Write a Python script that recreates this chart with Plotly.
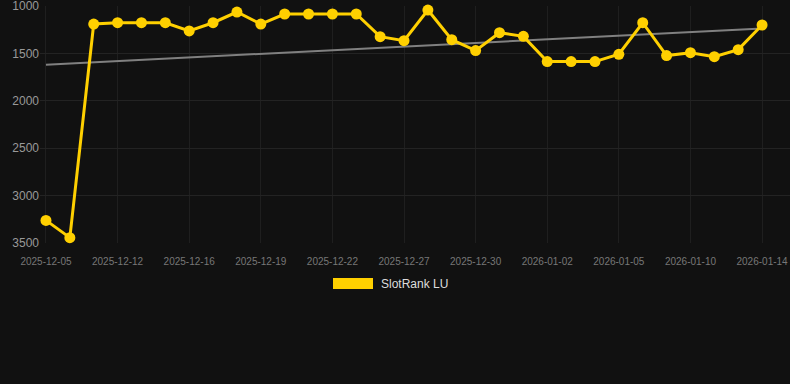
import numpy as np
import plotly.graph_objects as go

dates = [
    "2025-12-05", "2025-12-06", "2025-12-11", "2025-12-12", "2025-12-13", "2025-12-15",
    "2025-12-16", "2025-12-17", "2025-12-18", "2025-12-19", "2025-12-20", "2025-12-21",
    "2025-12-22", "2025-12-23", "2025-12-26", "2025-12-27", "2025-12-28", "2025-12-29",
    "2025-12-30", "2025-12-31", "2026-01-01", "2026-01-02", "2026-01-03", "2026-01-04",
    "2026-01-05", "2026-01-06", "2026-01-08", "2026-01-10", "2026-01-11", "2026-01-12",
    "2026-01-14",
]
ranks = [
    3262, 3444, 1190, 1176, 1176, 1176, 1263, 1176, 1063, 1190, 1084, 1084,
    1084, 1084, 1323, 1365, 1042, 1355, 1470, 1281, 1320, 1586, 1586, 1586,
    1509, 1176, 1523, 1492, 1534, 1460, 1200,
]
series_name = "SlotRank LU"
y_ticks = [1000, 1500, 2000, 2500, 3000, 3500]
x_ticks = dates[::3]

# linear trend (least squares over category index)
idx = np.arange(len(ranks))
slope, intercept = np.polyfit(idx, ranks, 1)
trend = (slope * idx + intercept).tolist()

gold = "#FFD000"
fig = go.Figure()
fig.add_trace(go.Scatter(
    x=dates, y=trend, mode="lines",
    line=dict(color="#808080", width=2),
    hoverinfo="skip", showlegend=False,
))
fig.add_trace(go.Scatter(
    x=dates, y=ranks, mode="lines+markers", name=series_name,
    line=dict(color=gold, width=3),
    marker=dict(color=gold, size=11),
    cliponaxis=False, showlegend=False,
))

fig.update_layout(
    width=790, height=384,
    margin=dict(l=40, r=0, t=6, b=141),
    paper_bgcolor="#111111", plot_bgcolor="#111111",
    font=dict(family="Liberation Sans, Arial, sans-serif", color="#888888"),
    showlegend=False,
    xaxis=dict(
        type="category", categoryorder="array", categoryarray=dates,
        range=[-0.25, 31.17],
        tickmode="array", tickvals=x_ticks, ticktext=x_ticks,
        tickfont=dict(size=10, color="#777777"),
        showgrid=True, gridcolor="#1f1f1f", gridwidth=1,
        zeroline=False, showline=False,
        ticks="outside", ticklen=9, tickcolor="rgba(0,0,0,0)",
        ticklabeloverflow="allow",
    ),
    yaxis=dict(
        range=[3500.5, 999.5],
        tickmode="array", tickvals=y_ticks, ticktext=[str(v) for v in y_ticks],
        tickfont=dict(size=12, color="#999999"),
        showgrid=True, gridcolor="#232323", gridwidth=1,
        zeroline=False, showline=False, ticks="",
        ticklabeloverflow="allow",
    ),
    shapes=[dict(
        type="rect", xref="paper", yref="paper",
        x0=(333 - 40) / 750, x1=(373 - 40) / 750,
        y0=(243 - 278) / 237, y1=(243 - 289) / 237,
        fillcolor=gold, line=dict(width=0),
    )],
    annotations=[dict(
        text=series_name, xref="paper", yref="paper",
        x=(379 - 40) / 750, y=(243 - 284) / 237,
        xanchor="left", yanchor="middle", showarrow=False,
        font=dict(size=12, color="#dddddd"),
    )],
)

fig.write_html(
    "out.html",
    config={"displayModeBar": False},
    post_script="document.body.style.margin='0';document.body.style.background='#111111';",
)
